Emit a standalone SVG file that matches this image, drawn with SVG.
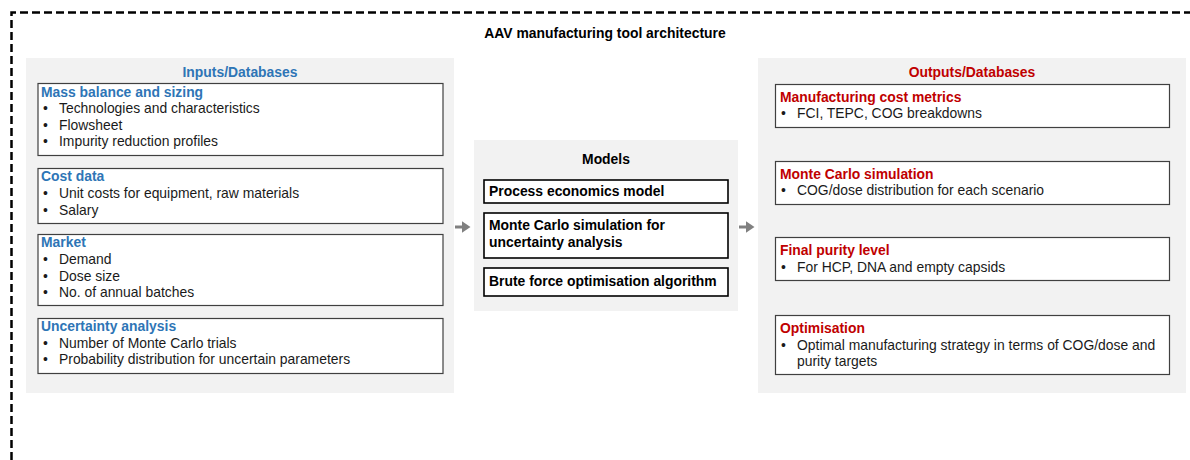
<svg xmlns="http://www.w3.org/2000/svg" width="1190" height="460" viewBox="0 0 1190 460">
<style>
text{font-family:"Liberation Sans",Arial,sans-serif;font-size:13.9px;fill:#1a1a1a}
.t{font-weight:bold;fill:#000}
.hb{font-weight:bold;fill:#2e75b6}
.hr{font-weight:bold;fill:#c00000}
.panel{fill:#f2f2f2}
.box{fill:#fff;stroke:#404040;stroke-width:1.2}
.mbox{fill:#fff;stroke:#000;stroke-width:1.6}
.mt{font-weight:bold;fill:#000}
</style>
<defs>
<marker id="ah" markerWidth="4" markerHeight="4" refX="1.5" refY="2" orient="auto" markerUnits="strokeWidth">
<path d="M0,0 L3,2 L0,4 Z" fill="#808080"/>
</marker>
</defs>
<rect width="1190" height="460" fill="#fff"/>
<path d="M11.5,460 V12.5 H1190" fill="none" stroke="#000" stroke-width="2.5" stroke-dasharray="8,4"/>
<text class="t" x="605" y="38" text-anchor="middle">AAV manufacturing tool architecture</text>

<g id="inputs">
<rect class="panel" x="26" y="58" width="428" height="335"/>
<text class="hb" x="240" y="77" text-anchor="middle">Inputs/Databases</text>
</g>
<g id="mass-balance">
<rect class="box" x="38" y="83.5" width="405" height="72"/>
<text class="hb" x="41" y="97">Mass balance and sizing</text>
<text x="43" y="113">•</text><text x="59" y="113">Technologies and characteristics</text>
<text x="43" y="130">•</text><text x="59" y="130">Flowsheet</text>
<text x="43" y="146">•</text><text x="59" y="146">Impurity reduction profiles</text>
</g>
<g id="cost-data">
<rect class="box" x="38" y="168.5" width="405" height="55"/>
<text class="hb" x="41" y="181">Cost data</text>
<text x="43" y="198">•</text><text x="59" y="198">Unit costs for equipment, raw materials</text>
<text x="43" y="215">•</text><text x="59" y="215">Salary</text>
</g>
<g id="market">
<rect class="box" x="38" y="234.5" width="405" height="71"/>
<text class="hb" x="41" y="247">Market</text>
<text x="43" y="264">•</text><text x="59" y="264">Demand</text>
<text x="43" y="281">•</text><text x="59" y="281">Dose size</text>
<text x="43" y="297">•</text><text x="59" y="297">No. of annual batches</text>
</g>
<g id="uncertainty">
<rect class="box" x="38" y="318.5" width="405" height="55"/>
<text class="hb" x="41" y="331">Uncertainty analysis</text>
<text x="43" y="348">•</text><text x="59" y="348">Number of Monte Carlo trials</text>
<text x="43" y="364">•</text><text x="59" y="364">Probability distribution for uncertain parameters</text>
</g>

<g id="models">
<rect class="panel" x="474" y="140" width="264" height="171"/>
<text class="mt" x="606" y="164" text-anchor="middle">Models</text>
</g>
<g id="process-economics">
<rect class="mbox" x="484" y="180" width="244" height="23"/>
<text class="mt" x="489" y="196">Process economics model</text>
</g>
<g id="monte-carlo-model">
<rect class="mbox" x="484" y="213" width="244" height="45"/>
<text class="mt" x="489" y="230">Monte Carlo simulation for</text>
<text class="mt" x="489" y="247">uncertainty analysis</text>
</g>
<g id="brute-force">
<rect class="mbox" x="484" y="268" width="244" height="28"/>
<text class="mt" x="489" y="286">Brute force optimisation algorithm</text>
</g>

<g id="outputs">
<rect class="panel" x="758" y="58" width="428" height="335"/>
<text class="hr" x="972" y="77" text-anchor="middle">Outputs/Databases</text>
</g>
<g id="cost-metrics">
<rect class="box" x="775.5" y="84.5" width="394" height="43"/>
<text class="hr" x="780" y="102">Manufacturing cost metrics</text>
<text x="781" y="118">•</text><text x="797" y="118">FCI, TEPC, COG breakdowns</text>
</g>
<g id="monte-carlo-out">
<rect class="box" x="775.5" y="161.5" width="394" height="43"/>
<text class="hr" x="780" y="179">Monte Carlo simulation</text>
<text x="781" y="195">•</text><text x="797" y="195">COG/dose distribution for each scenario</text>
</g>
<g id="purity">
<rect class="box" x="775.5" y="237.5" width="394" height="43"/>
<text class="hr" x="780" y="255">Final purity level</text>
<text x="781" y="272">•</text><text x="797" y="272">For HCP, DNA and empty capsids</text>
</g>
<g id="optimisation">
<rect class="box" x="775.5" y="315.5" width="394" height="59"/>
<text class="hr" x="780" y="333">Optimisation</text>
<text x="781" y="350">•</text><text x="797" y="350">Optimal manufacturing strategy in terms of COG/dose and</text>
<text x="797" y="366">purity targets</text>
</g>

<g id="connectors" stroke="#808080" stroke-width="3" fill="none">
<line x1="455" y1="227" x2="466" y2="227" marker-end="url(#ah)"/>
<line x1="739" y1="227" x2="750" y2="227" marker-end="url(#ah)"/>
</g>
</svg>
